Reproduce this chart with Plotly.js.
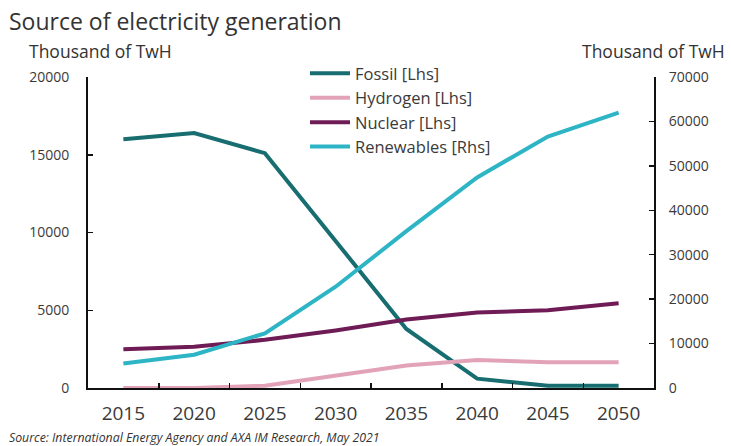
<!DOCTYPE html>
<html>
<head>
<meta charset="utf-8">
<script src="https://cdn.plot.ly/plotly-3.0.1.min.js"></script>
<style>
  html, body { margin: 0; padding: 0; background: #fff; }
  #chart { width: 731px; height: 446px; }
</style>
</head>
<body>
<div id="chart"></div>
<script>
// Electricity generation by source, thousand TWh
const years = ['2015', '2020', '2025', '2030', '2035', '2040', '2045', '2050'];
const fossil = [16000, 16400, 15100, 9500, 3800, 600, 150, 150];       // left axis
const hydrogen = [0, 0, 150, 800, 1450, 1800, 1650, 1650];            // left axis
const nuclear = [2500, 2650, 3100, 3700, 4400, 4850, 5000, 5450];     // left axis
const renewables = [5500, 7500, 12300, 22800, 35300, 47400, 56600, 62000]; // right axis

const leftTicks = [0, 5000, 10000, 15000, 20000];
const rightTicks = [0, 10000, 20000, 30000, 40000, 50000, 60000, 70000];

const FONT = '"Open Sans", Lato, sans-serif';
const TXT = '#3a3a3a';
const W = 4;

const traces = [
  { x: years, y: fossil, name: 'Fossil [Lhs]', type: 'scatter', mode: 'lines',
    line: { color: '#176d6f', width: W } },
  { x: years, y: hydrogen, name: 'Hydrogen [Lhs]', type: 'scatter', mode: 'lines',
    line: { color: '#e2a3b8', width: W } },
  { x: years, y: nuclear, name: 'Nuclear [Lhs]', type: 'scatter', mode: 'lines',
    line: { color: '#6e1b56', width: W } },
  { x: years, y: renewables, name: 'Renewables [Rhs]', type: 'scatter', mode: 'lines',
    yaxis: 'y2', line: { color: '#2db5c6', width: W } }
];

const ML = 88, MR = 77, MT = 77, MB = 58, WIDTH = 731, HEIGHT = 446;
const plotW = WIDTH - ML - MR, plotH = HEIGHT - MT - MB;
// pixel position -> paper fraction
function px(xp) { return (xp - ML) / plotW; }
function py(yp) { return (HEIGHT - MB - yp) / plotH; }

const layout = {
  width: WIDTH, height: HEIGHT,
  margin: { l: ML, r: MR, t: MT, b: MB },
  paper_bgcolor: '#fff', plot_bgcolor: '#fff',
  font: { family: FONT, color: TXT, size: 15 },
  showlegend: true,
  legend: {
    x: px(305), y: py(56), xanchor: 'left', yanchor: 'top',
    bgcolor: 'rgba(255,255,255,0)', tracegroupgap: 0,
    font: { family: FONT, size: 16.5, color: TXT },
    itemwidth: 40
  },
  xaxis: {
    type: 'category', range: [-0.5, 7.5],
    showline: true, linecolor: '#111', linewidth: 2,
    ticks: 'inside', tickson: 'boundaries', ticklen: 5, tickwidth: 1.5, tickcolor: '#111',
    showgrid: false, zeroline: false, ticklabelstandoff: 7,
    tickfont: { family: FONT, size: 19, color: TXT }
  },
  yaxis: {
    range: [0, 20000], tickvals: leftTicks, ticktext: leftTicks.map(String),
    showline: true, linecolor: '#111', linewidth: 2,
    ticks: 'inside', ticklen: 5, tickwidth: 1.5, tickcolor: '#111',
    showgrid: false, zeroline: false, ticklabelstandoff: 14,
    tickfont: { family: FONT, size: 14, color: TXT }
  },
  yaxis2: {
    range: [0, 70000], overlaying: 'y', side: 'right',
    tickvals: rightTicks, ticktext: rightTicks.map(String),
    showline: true, linecolor: '#111', linewidth: 2,
    ticks: 'inside', ticklen: 5, tickwidth: 1.5, tickcolor: '#111',
    showgrid: false, zeroline: false, ticklabelstandoff: 10,
    tickfont: { family: FONT, size: 14, color: TXT }
  },
  annotations: [
    { text: 'Source of electricity generation', xref: 'paper', yref: 'paper',
      x: px(7), y: py(21), xanchor: 'left', yanchor: 'middle', showarrow: false,
      font: { family: FONT, size: 23, color: '#333' } },
    { text: 'Thousand of TwH', xref: 'paper', yref: 'paper',
      x: px(27), y: py(51), xanchor: 'left', yanchor: 'middle', showarrow: false,
      font: { family: FONT, size: 17.5, color: '#333' } },
    { text: 'Thousand of TwH', xref: 'paper', yref: 'paper',
      x: px(727), y: py(51), xanchor: 'right', yanchor: 'middle', showarrow: false,
      font: { family: FONT, size: 17.5, color: '#333' } },
    { text: '<i>Source: International Energy Agency and AXA IM Research, May 2021</i>',
      xref: 'paper', yref: 'paper',
      x: px(7), y: py(437), xanchor: 'left', yanchor: 'middle', showarrow: false,
      font: { family: FONT, size: 12.3, color: '#333' } }
  ]
};

Plotly.newPlot('chart', traces, layout, { displayModeBar: false, staticPlot: true });
</script>
</body>
</html>
